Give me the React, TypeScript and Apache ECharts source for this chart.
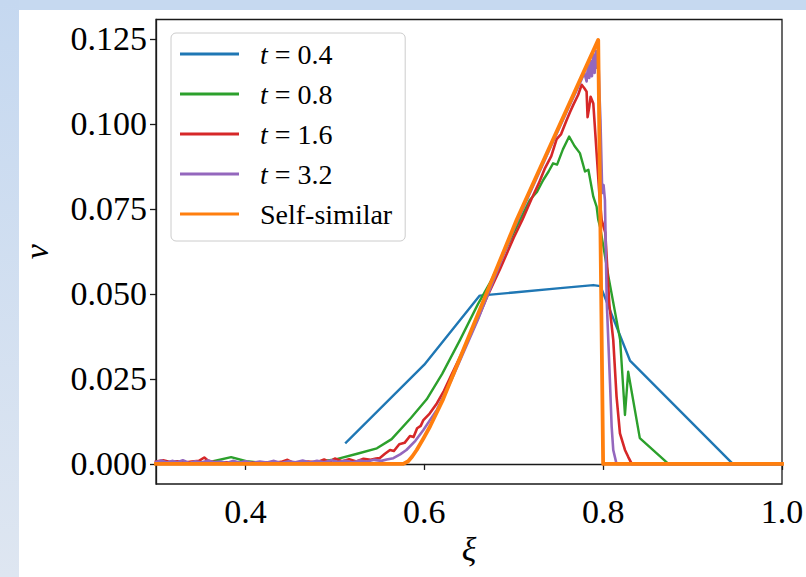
import React, { useEffect, useRef } from "react";
import * as echarts from "echarts";

const FONT = "'Liberation Serif', 'Times New Roman', serif";

const seriesNames = ["t = 0.4", "t = 0.8", "t = 1.6", "t = 3.2", "Self-similar"];
const seriesColors = ["#1f77b4", "#2ca02c", "#d62728", "#9467bd", "#ff7f0e"];

const xTicks = [0.4, 0.6, 0.8, 1.0];
const yTicks = [0, 0.025, 0.05, 0.075, 0.1, 0.125];

const blueXi = [0.5125, 0.6, 0.662, 0.7, 0.752, 0.789, 0.797, 0.83, 0.945, 1.0];
const blueV = [0.0063, 0.0292, 0.0495, 0.0504, 0.0517, 0.0526, 0.0523, 0.0304, 0.0, 0.0];

const greenXi = [0.3, 0.33, 0.35, 0.364, 0.384, 0.401, 0.42, 0.44, 0.46, 0.48, 0.502, 0.525, 0.547, 0.5635, 0.585, 0.6027, 0.62, 0.64, 0.66, 0.675, 0.69, 0.707, 0.718, 0.726, 0.733, 0.739, 0.744, 0.7485, 0.755, 0.762, 0.768, 0.774, 0.7797, 0.7835, 0.789, 0.7927, 0.7945, 0.7965, 0.806, 0.819, 0.8244, 0.828, 0.841, 0.873, 1.0];
const greenV = [0.0003, 0.0003, 0.0004, 0.0008, 0.002, 0.0008, 0.0003, 0.0003, 0.0003, 0.0006, 0.0014, 0.003, 0.0046, 0.0073, 0.0135, 0.019, 0.0265, 0.0365, 0.047, 0.054, 0.0625, 0.0718, 0.0776, 0.08, 0.0835, 0.086, 0.0884, 0.088, 0.0925, 0.0963, 0.0935, 0.0914, 0.086, 0.0865, 0.0786, 0.0757, 0.0718, 0.0698, 0.055, 0.0365, 0.0144, 0.0271, 0.0076, 0.0, 0.0];

const redXi = [0.3, 0.308, 0.316, 0.324, 0.332, 0.34, 0.348, 0.354, 0.358, 0.364, 0.372, 0.38, 0.39, 0.4, 0.41, 0.42, 0.43, 0.44, 0.447, 0.452, 0.46, 0.47, 0.48, 0.488, 0.494, 0.5, 0.508, 0.516, 0.524, 0.532, 0.54, 0.546, 0.55, 0.556, 0.5617, 0.566, 0.572, 0.578, 0.584, 0.588, 0.592, 0.596, 0.599, 0.606, 0.614, 0.622, 0.63, 0.64, 0.65, 0.66, 0.67, 0.685, 0.7, 0.71, 0.72, 0.728, 0.735, 0.742, 0.748, 0.753, 0.759, 0.763, 0.7666, 0.772, 0.776, 0.779, 0.7815, 0.7826, 0.7845, 0.786, 0.789, 0.7927, 0.7957, 0.7983, 0.8024, 0.8069, 0.8113, 0.815, 0.8188, 0.8244, 0.828, 0.832, 1.0];
const redV = [0.0007, 0.0011, 0.0006, 0.0008, 0.0004, 0.0007, 0.0009, 0.0019, 0.001, 0.0006, 0.0004, 0.0005, 0.0003, 0.0004, 0.0003, 0.0005, 0.0003, 0.0006, 0.0012, 0.0005, 0.0004, 0.0007, 0.0005, 0.0013, 0.0006, 0.0016, 0.0008, 0.0014, 0.0007, 0.0015, 0.0012, 0.0016, 0.0017, 0.003, 0.0041, 0.0038, 0.0058, 0.0062, 0.0082, 0.0079, 0.0105, 0.0112, 0.0129, 0.0148, 0.0178, 0.0215, 0.026, 0.0315, 0.037, 0.0428, 0.049, 0.0575, 0.0665, 0.072, 0.078, 0.0825, 0.087, 0.0905, 0.0955, 0.097, 0.101, 0.1035, 0.1056, 0.1085, 0.1115, 0.1105, 0.1095, 0.102, 0.105, 0.108, 0.106, 0.0915, 0.0797, 0.0718, 0.068, 0.047, 0.0365, 0.0198, 0.009, 0.0041, 0.0021, 0.0, 0.0];

const purpleXi = [0.3, 0.306, 0.312, 0.318, 0.324, 0.33, 0.337, 0.344, 0.351, 0.358, 0.365, 0.372, 0.379, 0.386, 0.393, 0.4, 0.408, 0.416, 0.424, 0.432, 0.44, 0.448, 0.456, 0.464, 0.472, 0.48, 0.488, 0.496, 0.504, 0.512, 0.52, 0.528, 0.536, 0.544, 0.552, 0.558, 0.5654, 0.573, 0.58, 0.59, 0.599, 0.614, 0.63, 0.66, 0.7, 0.74, 0.76, 0.774, 0.779, 0.7815, 0.783, 0.7845, 0.786, 0.7875, 0.789, 0.7905, 0.792, 0.7935, 0.7945, 0.796, 0.797, 0.799, 0.8005, 0.802, 0.804, 0.8077, 0.8095, 0.8113, 0.815, 1.0];
const purpleV = [0.0006, 0.001, 0.0004, 0.0009, 0.0005, 0.0011, 0.0003, 0.0008, 0.0004, 0.001, 0.0005, 0.0007, 0.0003, 0.0009, 0.0004, 0.0008, 0.0003, 0.0007, 0.0004, 0.0009, 0.0003, 0.0008, 0.0005, 0.001, 0.0004, 0.0009, 0.0005, 0.0011, 0.0006, 0.0009, 0.0005, 0.001, 0.0007, 0.0012, 0.0009, 0.0013, 0.0017, 0.0028, 0.0041, 0.0068, 0.01, 0.0159, 0.0245, 0.0425, 0.069, 0.0925, 0.104, 0.112, 0.115, 0.1125, 0.117, 0.1135, 0.1185, 0.114, 0.1205, 0.115, 0.1215, 0.1165, 0.121, 0.108, 0.101, 0.0797, 0.082, 0.0776, 0.048, 0.0237, 0.011, 0.0041, 0.0, 0.0];

const selfXi = [0.3, 0.5765, 0.582, 0.5865, 0.5915, 0.599, 0.6064, 0.621, 0.7033, 0.7945, 0.8, 1.0];
const selfV = [0.0, 0.0, 0.0008, 0.0022, 0.0041, 0.0075, 0.011, 0.019, 0.0718, 0.1247, 0.0, 0.0];

const seriesXi = [blueXi, greenXi, redXi, purpleXi, selfXi];
const seriesV = [blueV, greenV, redV, purpleV, selfV];
const seriesWidths = [2.4, 2.4, 2.6, 2.6, 3.8];

export default function App() {
  const ref = useRef<HTMLDivElement>(null);
  useEffect(() => {
    if (!ref.current) return;
    const chart = echarts.init(ref.current, null, { renderer: "svg" });
    const series = seriesNames.map((name, i) => ({
      name,
      type: "line",
      data: seriesXi[i].map((x, j) => [x, seriesV[i][j]]),
      showSymbol: false,
      symbol: "none",
      color: seriesColors[i],
      lineStyle: { width: seriesWidths[i], color: seriesColors[i], join: "round", cap: "square" },
      z: 2 + i,
    }));
    chart.setOption({
      animation: false,
      backgroundColor: "#ffffff",
      graphic: [
        { type: "rect", shape: { x: 0, y: 0, width: 806, height: 10 }, style: { fill: "#c6d9f0" }, silent: true },
        {
          type: "rect",
          shape: { x: 0, y: 0, width: 19, height: 577 },
          style: {
            fill: new echarts.graphic.LinearGradient(0, 0, 0, 1, [
              { offset: 0, color: "#c5d8f0" },
              { offset: 1, color: "#dee6f1" },
            ]),
          },
          silent: true,
        },
      ],
      grid: {
        left: 156,
        right: 24,
        top: 19.5,
        bottom: 93,
        show: true,
        borderColor: "#1a1a1a",
        borderWidth: 1.3,
        backgroundColor: "transparent",
        outerBoundsMode: "none",
        containLabel: false,
      },
      legend: {
        orient: "vertical",
        left: 171,
        top: 33,
        itemWidth: 59,
        itemHeight: 3,
        itemGap: 12,
        icon: "rect",
        padding: [7, 13, 13, 9],
        backgroundColor: "rgba(255,255,255,0.8)",
        borderColor: "#cccccc",
        borderWidth: 1,
        borderRadius: 5,
        data: seriesNames,
        textStyle: {
          fontFamily: FONT,
          fontSize: 28,
          color: "#000",
          lineHeight: 28,
          rich: {
            g: { width: 16, fontSize: 28, lineHeight: 28, fontFamily: FONT },
            i: { fontStyle: "italic", fontSize: 28, lineHeight: 28, fontFamily: FONT, color: "#000" },
            n: { fontSize: 28, lineHeight: 28, fontFamily: FONT, color: "#000" },
          },
        },
        formatter: (name: string) =>
          name.startsWith("t = ") ? `{g| }{i|t}{n| = ${name.slice(4)}}` : `{g| }{n|${name}}`,
      },
      xAxis: {
        type: "value",
        min: 0.3,
        max: 1.0,
        name: "ξ",
        nameLocation: "middle",
        nameGap: 46,
        nameTextStyle: { fontFamily: FONT, fontSize: 34, color: "#000", fontStyle: "italic" },
        axisLine: { show: true, lineStyle: { color: "#1a1a1a", width: 1.3 } },
        axisTick: { show: true, inside: false, length: 6, customValues: xTicks, lineStyle: { color: "#1a1a1a", width: 1.3 } },
        axisLabel: {
          customValues: xTicks,
          formatter: (v: number) => v.toFixed(1),
          fontFamily: FONT,
          fontSize: 34,
          color: "#000",
          margin: 10,
        },
        splitLine: { show: false },
      },
      yAxis: {
        type: "value",
        min: -0.0059,
        max: 0.1307,
        name: "v",
        nameLocation: "middle",
        nameGap: 103,
        nameRotate: 90,
        nameTextStyle: { fontFamily: FONT, fontSize: 34, color: "#000", fontStyle: "italic" },
        axisLine: { show: true, lineStyle: { color: "#1a1a1a", width: 1.3 } },
        axisTick: { show: true, inside: false, length: 6, customValues: yTicks, lineStyle: { color: "#1a1a1a", width: 1.3 } },
        axisLabel: {
          customValues: yTicks,
          formatter: (v: number) => v.toFixed(3),
          fontFamily: FONT,
          fontSize: 34,
          color: "#000",
          margin: 9,
        },
        splitLine: { show: false },
      },
      series,
    });
    return () => chart.dispose();
  }, []);
  return (
    <div style={{ position: "fixed", left: 0, top: 0, width: 806, height: 577, background: "#fff" }}>
      <div ref={ref} style={{ width: 806, height: 577 }} />
    </div>
  );
}
